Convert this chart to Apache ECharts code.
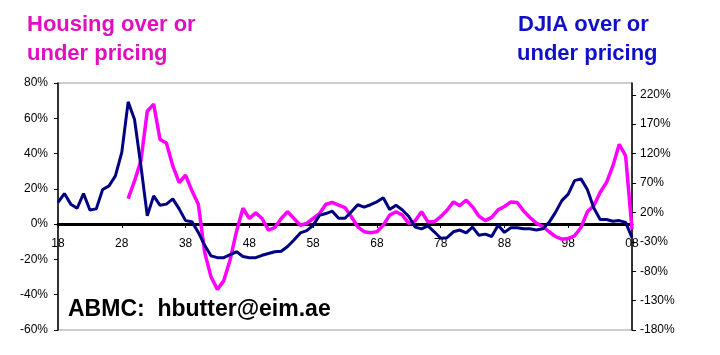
<!DOCTYPE html>
<html>
<head>
<meta charset="utf-8">
<script src="https://cdn.jsdelivr.net/npm/echarts@6/dist/echarts.min.js"></script>
<style>
  html, body { margin: 0; padding: 0; background: #fff; }
  #main { width: 720px; height: 355px; }
</style>
</head>
<body>
<div id="main"></div>
<script type="text/javascript">
    // years 1918 .. 2008, axis shows last two digits every 10 years
    var years = [];
    for (var y = 1918; y <= 2008; y++) years.push(String(y));

    // housing over/under pricing, % (left axis), starts 1929
    var housing = [
        null, null, null, null, null, null, null, null, null, null, null,
        14.5, 24.5, 36, 64, 68, 48, 46, 33, 23.6, 27.7,          // 1929-1938
        18.9, 11.3, -16, -30, -37, -32, -20, -4, 9, 3.2,         // 1939-1948
        6.4, 3.2, -3.4, -1.9, 3.2, 7, 3.2, -0.6, 0.4, 3.2,       // 1949-1958
        6, 11.3, 12.3, 10.8, 9.4, 4.2, -1.5, -4.3, -4.9, -4.3,   // 1959-1968
        -0.6, 5.1, 7, 5.1, 0.4, 1.9, 7, 1.3, 1.3, 4.2,           // 1969-1978
        7.9, 12.6, 10.5, 13.6, 9.8, 4.5, 2, 3.8, 8.1, 10,        // 1979-1988
        12.6, 12.3, 7.5, 3.8, 0.6, -1.3, -4.3, -7, -8.5, -8.1,   // 1989-1998
        -6.6, -1.9, 7, 10.4, 17.9, 23.6, 33, 45.3, 38.7, -3      // 1999-2008
    ];

    // DJIA over/under pricing, % (right axis)
    var djia = [
        37, 52, 34, 27, 52, 24, 26, 59, 65, 82,                  // 1918-1927
        122, 208, 178, 99, 14, 48, 32, 34, 43, 26,               // 1928-1937
        6, 4, -14, -36, -54, -57, -57, -52, -47, -55,            // 1938-1947
        -57, -57, -53, -50, -47, -46, -38, -27, -15, -11,        // 1948-1957
        -2, 15, 18, 22, 10, 10, 21, 33, 29, 33,                  // 1958-1967
        38, 45, 25, 32, 24, 13, -5, -8, -3, -13,                 // 1968-1977
        -24, -23, -13, -10, -15, -5, -19, -17, -21, -2,          // 1978-1987
        -14, -6, -6, -8, -8, -10, -8, 3, 20, 40,                 // 1988-1997
        51, 74, 77, 59, 28, 8, 8, 5, 6, 3,                       // 1998-2007
        -23                                                      // 2008
    ];

    var rightTicks = [-180, -130, -80, -30, 20, 70, 120, 170, 220];

    var myChart = echarts.init(document.getElementById('main'));
    var titleFont = '"Comic Sans MS", "Liberation Sans", sans-serif';

    // plot is 247px tall for -60..80, so the 0% line sits 106px above the bottom
    myChart.setOption({
        animation: false,
        textStyle: { fontFamily: 'Liberation Sans, Arial, sans-serif' },
        grid: {
            left: 58, right: 88, top: 83, bottom: 25,
            show: true, borderColor: '#9a9a9a', borderWidth: 1
        },
        graphic: [
            { type: 'text', left: 27, top: 14, style: { text: 'Housing over or', fill: '#e010c0', font: 'bold 22px ' + titleFont } },
            { type: 'text', left: 27, top: 43, style: { text: 'under pricing', fill: '#e010c0', font: 'bold 22px ' + titleFont } },
            { type: 'text', left: 518, top: 14, style: { text: 'DJIA over or', fill: '#1010c8', font: 'bold 22px ' + titleFont } },
            { type: 'text', left: 517, top: 43, style: { text: 'under pricing', fill: '#1010c8', font: 'bold 22px ' + titleFont } },
            { type: 'text', left: 68, top: 298, style: { text: 'ABMC:  hbutter@eim.ae', fill: '#000', font: 'bold 23px ' + titleFont } }
        ],
        xAxis: {
            type: 'category',
            data: years,
            boundaryGap: false,
            offset: -106,
            axisLine: { onZero: false, lineStyle: { color: '#000', width: 3 } },
            axisTick: { interval: 9, length: 4, lineStyle: { color: '#000' } },
            axisLabel: {
                interval: 9, color: '#000', fontSize: 12, margin: 14,
                formatter: function (v) { return v.slice(2); }
            },
            splitLine: { show: false }
        },
        yAxis: [{
            type: 'value',
            min: -60, max: 80, interval: 20,
            axisLine: { show: true, onZero: false, lineStyle: { color: '#000', width: 1.5 } },
            axisTick: { show: true, length: 4, lineStyle: { color: '#000' } },
            axisLabel: { color: '#000', fontSize: 12, margin: 10, formatter: '{value}%' },
            splitLine: { show: false }
        }, {
            type: 'value',
            position: 'right',
            min: -180, max: 240,
            axisLine: { show: true, onZero: false, lineStyle: { color: '#000', width: 1.5 } },
            axisTick: { show: true, length: 4, customValues: rightTicks, lineStyle: { color: '#000' } },
            axisLabel: { color: '#000', fontSize: 12, margin: 8, customValues: rightTicks, formatter: '{value}%' },
            splitLine: { show: false }
        }],
        series: [{
            name: 'Housing',
            type: 'line',
            yAxisIndex: 0,
            data: housing,
            showSymbol: false,
            lineStyle: { color: '#ff00ff', width: 3.5 },
            itemStyle: { color: '#ff00ff' }
        }, {
            name: 'DJIA',
            type: 'line',
            yAxisIndex: 1,
            data: djia,
            showSymbol: false,
            lineStyle: { color: '#000080', width: 3 },
            itemStyle: { color: '#000080' }
        }]
    });
</script>
</body>
</html>
